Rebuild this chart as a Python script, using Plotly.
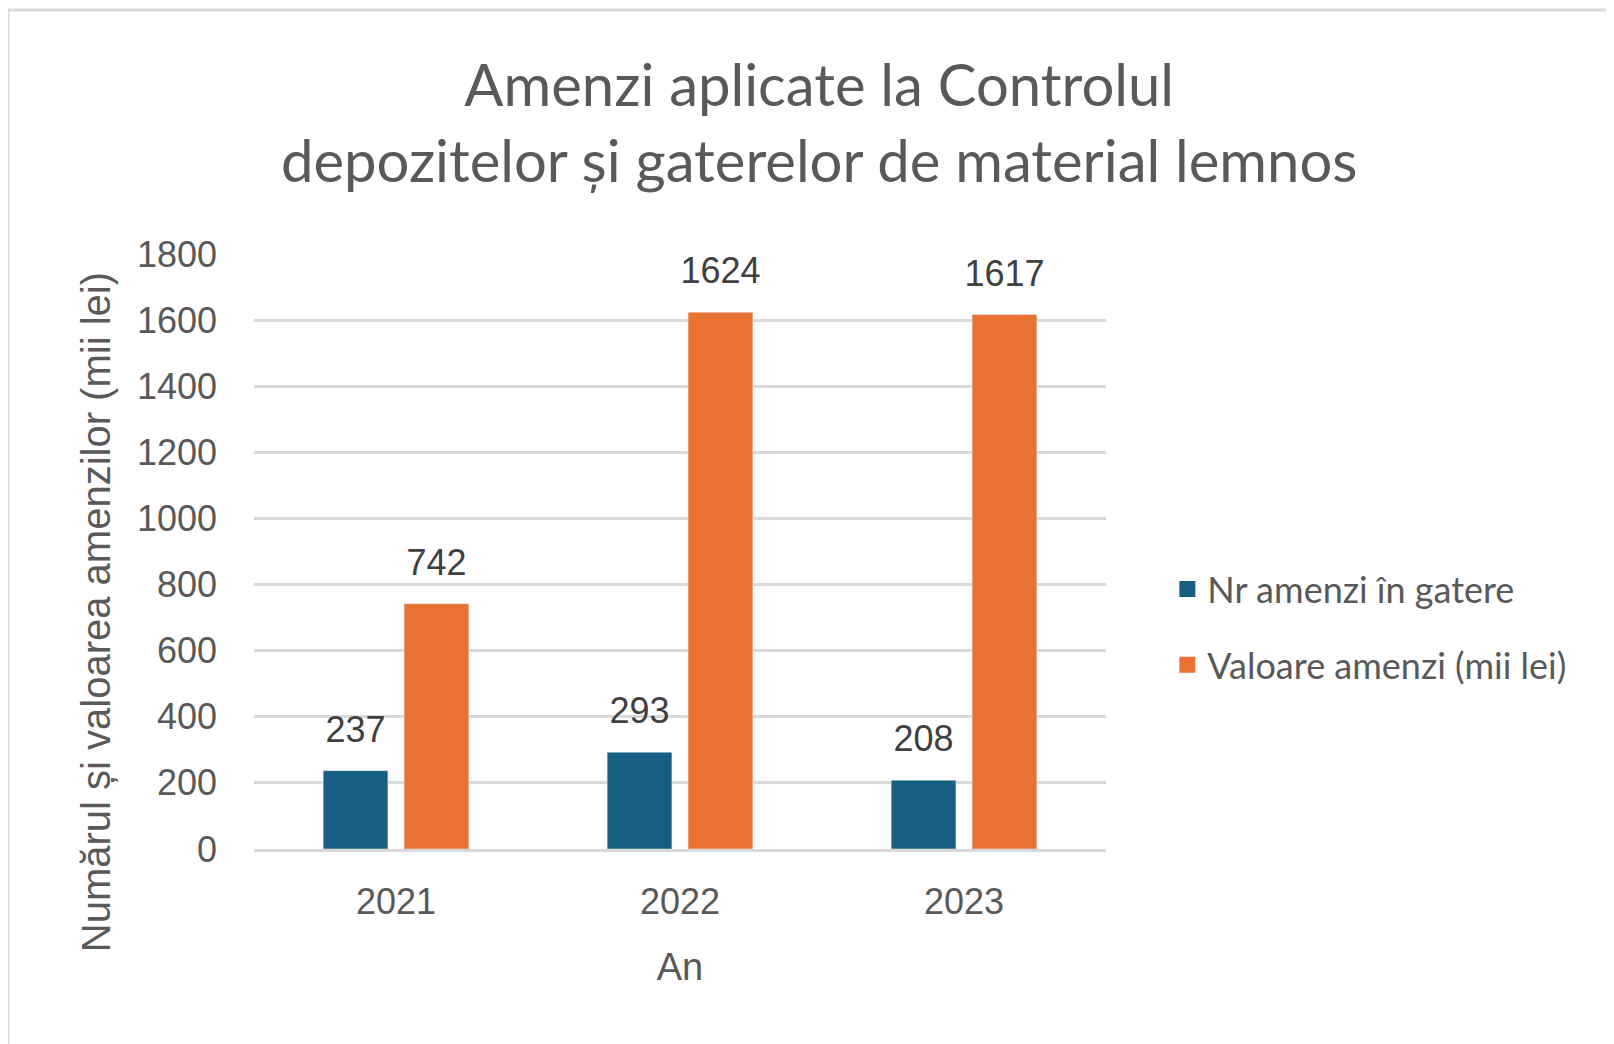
import plotly.graph_objects as go

years = ["2021", "2022", "2023"]
nr_amenzi = [237, 293, 208]
valoare_amenzi = [742, 1624, 1617]
y_ticks = [0, 200, 400, 600, 800, 1000, 1200, 1400, 1600, 1800]

names = ["Nr amenzi în gatere", "Valoare amenzi (mii lei)"]
colors = ["#156082", "#E97132"]

txt = "#595959"
num_font = "Liberation Sans, Arial, sans-serif"
title_font = "Lato, Noto Sans, sans-serif"

fig = go.Figure()

for i, vals in enumerate([nr_amenzi, valoare_amenzi]):
    fig.add_trace(go.Bar(
        x=years, y=vals, name=names[i], marker_color=colors[i],
        offsetgroup=str(i), showlegend=False, hoverinfo="skip",
    ))

# value labels, grouped the same way as the bars
for i, vals in enumerate([nr_amenzi, valoare_amenzi]):
    fig.add_trace(go.Scatter(
        x=years, y=vals, mode="markers+text", text=[str(v) for v in vals],
        textposition="top center", offsetgroup=str(i),
        marker=dict(size=30, opacity=0),
        textfont=dict(family=num_font, size=36, color="#404040"),
        showlegend=False, hoverinfo="skip", cliponaxis=False,
    ))

# legend entries only (bigger square swatches than the bar default)
for i in range(2):
    fig.add_trace(go.Scatter(
        x=[None], y=[None], mode="markers", name=names[i],
        offsetgroup=str(i), legendgroup=f"g{i}",
        marker=dict(symbol="square", size=16, color=colors[i], line_width=0),
    ))

fig.update_layout(
    width=1614, height=1044,
    paper_bgcolor="white", plot_bgcolor="white",
    margin=dict(l=246, r=516, t=246, b=203),
    barmode="group", bargap=0.43, bargroupgap=0.2,
    scattermode="group",
    title=dict(
        text="Amenzi aplicate la Controlul<br>depozitelor și gaterelor de material lemnos",
        x=0.5026, xref="container", xanchor="center",
        y=0.906, yref="container", yanchor="middle",
        font=dict(family=title_font, size=58, color=txt),
    ),
    legend=dict(
        x=1.072, xanchor="left", y=0.373, yanchor="middle",
        font=dict(family=title_font, size=36, color=txt),
        tracegroupgap=26, itemsizing="trace",
    ),
    showlegend=True,
)

fig.update_yaxes(
    range=[0, 1800], tickvals=y_ticks, showgrid=True,
    gridcolor="#d9d9d9", gridwidth=2.5, zeroline=False, showline=False,
    tickfont=dict(family=num_font, size=36, color=txt),
    ticklabelstandoff=36,
)
fig.update_xaxes(
    type="category", showline=True, linecolor="#d9d9d9", linewidth=2.5,
    tickfont=dict(family=num_font, size=36, color=txt),
    ticklabelstandoff=19,
    title=dict(text="An", standoff=33,
               font=dict(family=num_font, size=38, color=txt)),
)

# y-axis title sits a bit below the plot centre in the original
fig.add_annotation(
    text="Numărul și valoarea amenzilor (mii lei)", textangle=-90,
    xref="paper", yref="paper", x=-0.1854, y=0.398,
    xanchor="center", yanchor="middle",
    showarrow=False, font=dict(family=num_font, size=40, color=txt),
)

# light frame of the chart area
fig.add_shape(type="rect", xref="paper", yref="paper",
              x0=-0.2887, x1=1.7, y0=-0.5, y1=1.41,
              line=dict(color="#d9d9d9", width=3), fillcolor="rgba(0,0,0,0)")

fig.write_html("out.html")
